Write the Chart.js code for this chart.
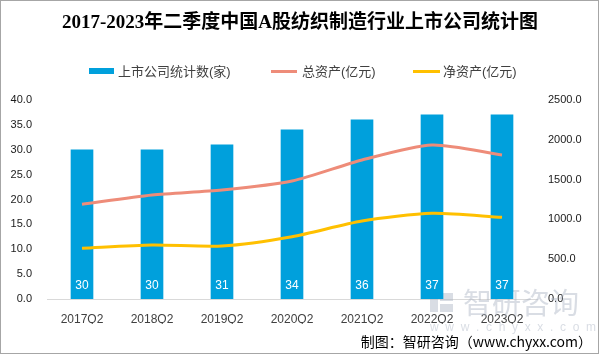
<!DOCTYPE html>
<html>
<head>
<meta charset="utf-8">
<script src="https://cdn.jsdelivr.net/npm/chart.js@4"></script>
<style>
    html, body { margin: 0; padding: 0; background: #fff; }
    #wrap { width: 599px; height: 354px; position: relative; }
</style>
</head>
<body>
<div id="wrap"><canvas id="chart" width="599" height="354"></canvas></div>
<script>
// Chart data
const quarters = ['2017Q2', '2018Q2', '2019Q2', '2020Q2', '2021Q2', '2022Q2', '2023Q2'];
const companyCount = [30, 30, 31, 34, 36, 37, 37];
const totalAssets = [1190, 1306, 1369, 1482, 1746, 1935, 1809];
const netAssets = [637, 678, 666, 783, 980, 1076, 1026];
const leftTicks = [0, 5, 10, 15, 20, 25, 30, 35, 40];
const rightTicks = [0, 500, 1000, 1500, 2000, 2500];

const titleText = '2017-2023年二季度中国A股纺织制造行业上市公司统计图';
const seriesNames = ['上市公司统计数(家)', '总资产(亿元)', '净资产(亿元)'];
const sourceText = '制图：智研咨询（www.chyxx.com）';

const barColor = '#00A0DC';
const totalColor = '#EE8C79';
const netColor = '#FFC000';
const font = '"Liberation Sans", Arial, sans-serif';

// Title, legend, bar labels, footer, border
const decorPlugin = {
    id: 'decor',
    beforeDatasetsDraw(chart) {
        const ctx = chart.ctx;
        ctx.save();
        // watermark sits behind the marks
        ctx.fillStyle = 'rgba(170,180,195,0.45)';
        ctx.fillRect(430, 293, 8, 19);
        ctx.fillRect(440, 293, 13, 8);
        ctx.fillRect(440, 304, 13, 8);
        ctx.font = '29px "Noto Sans CJK SC", sans-serif';
        ctx.textAlign = 'left';
        ctx.textBaseline = 'middle';
        ctx.fillText('智研咨询', 463, 303);
        ctx.font = '12px "Liberation Sans", sans-serif';
        ctx.fillText('w  w  w  .  c  h  y  x  x  .  c  o  m', 430, 328);
        ctx.restore();
    },
    afterDatasetsDraw(chart) {
        const ctx = chart.ctx;
        const meta = chart.getDatasetMeta(0);
        ctx.save();
        ctx.fillStyle = '#ffffff';
        ctx.font = '12px ' + font;
        ctx.textAlign = 'center';
        ctx.textBaseline = 'middle';
        meta.data.forEach((bar, i) => {
            ctx.fillText(String(companyCount[i]), bar.x, chart.chartArea.bottom - 13);
        });
        ctx.restore();
    },
    afterDraw(chart) {
        const ctx = chart.ctx;
        ctx.save();

        // title
        ctx.fillStyle = '#000';
        ctx.font = 'bold 19px "Liberation Serif", "Noto Sans CJK SC", serif';
        ctx.textAlign = 'center';
        ctx.textBaseline = 'middle';
        ctx.fillText(titleText, 300, 23);

        // legend
        ctx.font = '13px "Liberation Sans", "Noto Sans CJK SC", sans-serif';
        ctx.textAlign = 'left';
        ctx.fillStyle = barColor;
        ctx.fillRect(89, 68, 25, 6);
        ctx.fillStyle = totalColor;
        ctx.fillRect(271, 70, 26, 3);
        ctx.fillStyle = netColor;
        ctx.fillRect(413, 70, 27, 3);
        ctx.fillStyle = '#404040';
        ctx.fillText(seriesNames[0], 118, 72);
        ctx.fillText(seriesNames[1], 302, 72);
        ctx.fillText(seriesNames[2], 443, 72);

        // source
        ctx.fillStyle = '#000';
        ctx.font = '14px "Noto Sans CJK SC", sans-serif';
        ctx.textAlign = 'right';
        ctx.fillText(sourceText, 592, 342);

        // frame
        ctx.strokeStyle = '#a6a6a6';
        ctx.lineWidth = 1;
        ctx.strokeRect(0.5, 0.5, 598, 353);
        ctx.restore();
    }
};

const chart = new Chart(document.getElementById('chart'), {
    type: 'bar',
    data: {
        labels: quarters,
        datasets: [
            {
                type: 'bar',
                label: seriesNames[0],
                data: companyCount,
                backgroundColor: barColor,
                barThickness: 22,
                yAxisID: 'y',
                order: 2
            },
            {
                type: 'line',
                label: seriesNames[1],
                data: totalAssets,
                borderColor: totalColor,
                backgroundColor: totalColor,
                borderWidth: 3,
                pointRadius: 0,
                tension: 0.25,
                yAxisID: 'y2',
                order: 1
            },
            {
                type: 'line',
                label: seriesNames[2],
                data: netAssets,
                borderColor: netColor,
                backgroundColor: netColor,
                borderWidth: 3,
                pointRadius: 0,
                tension: 0.25,
                yAxisID: 'y2',
                order: 0
            }
        ]
    },
    options: {
        responsive: false,
        animation: false,
        layout: { padding: { top: 100, bottom: 30, left: 0, right: 0 } },
        plugins: {
            legend: { display: false },
            title: { display: false },
            tooltip: { enabled: false }
        },
        scales: {
            x: {
                grid: { display: false, drawTicks: false },
                border: { display: true, color: '#d9d9d9', width: 1 },
                ticks: { color: '#404040', font: { size: 12, family: font }, padding: 13 },
                afterFit(scale) { scale.height = 25; }
            },
            y: {
                position: 'left',
                min: 0,
                max: 40,
                afterBuildTicks(scale) { scale.ticks = leftTicks.map(v => ({ value: v })); },
                grid: { display: false, drawTicks: false },
                border: { display: false },
                ticks: {
                    color: '#1a1a1a',
                    font: { size: 11, family: font },
                    padding: 15,
                    callback: v => v.toFixed(1)
                },
                afterFit(scale) { scale.width = 47; }
            },
            y2: {
                position: 'right',
                min: 0,
                max: 2500,
                afterBuildTicks(scale) { scale.ticks = rightTicks.map(v => ({ value: v })); },
                grid: { display: false, drawTicks: false },
                border: { display: false },
                ticks: {
                    color: '#1a1a1a',
                    font: { size: 11, family: font },
                    padding: 11,
                    callback: v => v.toFixed(1)
                },
                afterFit(scale) { scale.width = 62; }
            }
        }
    },
    plugins: [decorPlugin]
});
</script>
</body>
</html>
